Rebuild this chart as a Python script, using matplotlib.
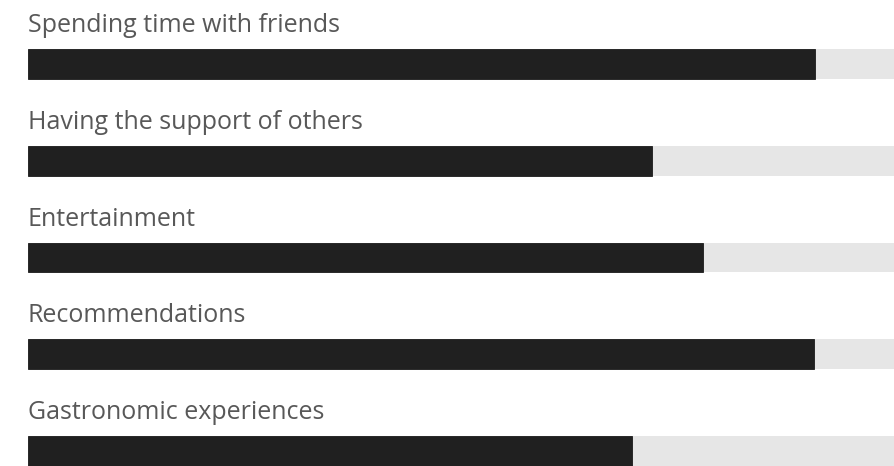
import matplotlib
matplotlib.use("Agg")
import matplotlib.pyplot as plt

labels = ["Spending time with friends", "Having the support of others",
          "Entertainment", "Recommendations", "Gastronomic experiences"]
values = [90.8, 72.0, 77.9, 90.7, 69.7]
track_max = 100

plt.rcParams['font.family'] = ['Open Sans', 'DejaVu Sans']

fig = plt.figure(figsize=(8.95, 4.66), dpi=100)
ax = fig.add_axes([28 / 895, 0, 1 - 28 / 895, 1])

pos = list(range(len(labels)))
# grey track behind each bar, dark bar on top
ax.barh(pos, [track_max + 1] * len(pos), height=0.31, color="#e6e6e6", left=0)
ax.barh(pos, values, height=0.31, color="#202020", edgecolor="#1a1a1a", linewidth=0.6)

for i, lab in enumerate(labels):
    ax.text(0, i - 0.33, lab, fontsize=18, color="#585858", va="baseline", ha="left")

ax.set_xlim(0, track_max)
ax.set_ylim(4.155, -0.6615)
ax.axis("off")

fig.savefig("out.png", dpi=100)
